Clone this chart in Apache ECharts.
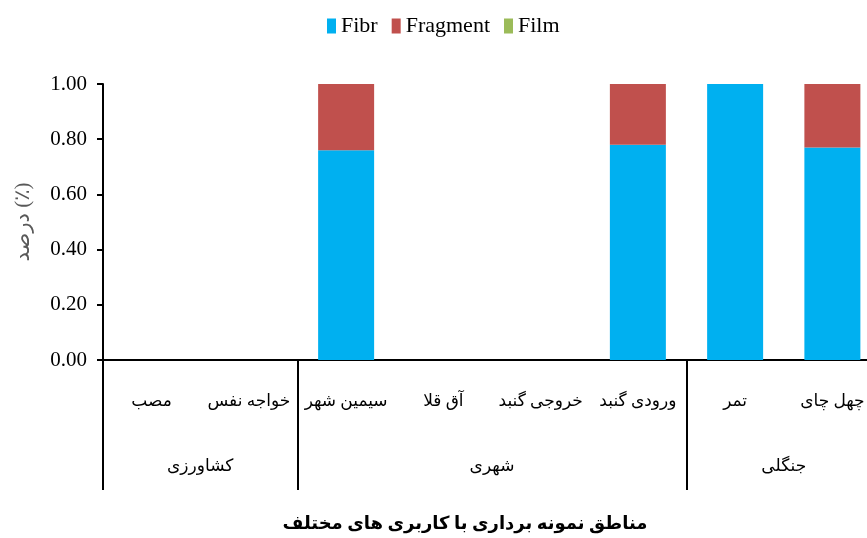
<!DOCTYPE html>
<html>
<head>
<meta charset="utf-8">
<script src="https://cdn.jsdelivr.net/npm/echarts@6/dist/echarts.min.js"></script>
<style>
html, body { margin: 0; padding: 0; background: #fff; }
#main { width: 867px; height: 538px; }
</style>
</head>
<body>
<div id="main"></div>
<script>
// sampling sites, left to right as in the figure
var sites = ['مصب', 'خواجه نفس', 'سیمین شهر', 'آق قلا', 'خروجی گنبد', 'ورودی گنبد', 'تمر', 'چهل چای'];
var fibr = [0, 0, 0.76, 0, 0, 0.78, 1.00, 0.77];
var fragment = [0, 0, 0.24, 0, 0, 0.22, 0, 0.23];
var film = [0, 0, 0, 0, 0, 0, 0, 0];

// land use groups: name, first site index, site count
var groupNames = ['کشاورزی', 'شهری', 'جنگلی'];
var groupStart = [0, 2, 6];
var groupSize = [2, 4, 2];

var yTicks = [0, 0.2, 0.4, 0.6, 0.8, 1.0];

var SERIF = 'Liberation Serif, DejaVu Serif, serif';
var FA = 'Liberation Serif, DejaVu Sans, sans-serif';

var groupMid = [];
for (var g = 0; g < groupNames.length; g++) {
    groupMid.push(groupStart[g] + groupSize[g] / 2);
}

var option = {
    animation: false,
    color: ['#00B0F0', '#C0504D', '#9BBB59'],
    legend: {
        top: 10,
        left: 322,
        icon: 'rect',
        itemWidth: 9,
        itemHeight: 15,
        itemGap: 14,
        textStyle: { fontFamily: SERIF, fontSize: 22, color: '#000' },
        data: ['Fibr', 'Fragment', 'Film']
    },
    grid: {
        left: 103,
        right: -14,
        top: 84,
        bottom: 178,
        outerBoundsMode: 'none'
    },
    xAxis: [
        {
            type: 'category',
            data: sites,
            position: 'bottom',
            axisLine: { lineStyle: { color: '#000', width: 2 } },
            axisTick: {
                show: true,
                length: 130,
                interval: function (index) {
                    return groupStart.indexOf(index) >= 0;
                },
                lineStyle: { color: '#000', width: 2 }
            },
            axisLabel: {
                interval: 0,
                margin: 33,
                fontFamily: FA,
                fontSize: 17,
                color: '#000'
            },
            name: 'مناطق نمونه برداری با کاربری های مختلف',
            nameLocation: 'middle',
            nameGap: 155,
            nameTextStyle: {
                fontFamily: FA,
                fontSize: 18,
                fontWeight: 'bold',
                color: '#000',
                padding: [0, 54, 0, 0]
            }
        },
        {
            type: 'value',
            min: 0,
            max: sites.length,
            position: 'bottom',
            axisLine: { show: false },
            axisTick: { show: false },
            splitLine: { show: false },
            axisLabel: {
                customValues: groupMid,
                margin: 98,
                fontFamily: FA,
                fontSize: 17,
                color: '#000',
                formatter: function (v) {
                    var i = groupMid.indexOf(v);
                    return i >= 0 ? groupNames[i] : '';
                }
            }
        }
    ],
    yAxis: {
        type: 'value',
        min: yTicks[0],
        max: yTicks[yTicks.length - 1],
        interval: 0.2,
        axisLine: { show: true, lineStyle: { color: '#000', width: 2 } },
        axisTick: { show: true, length: 6, lineStyle: { color: '#000', width: 2 } },
        splitLine: { show: false },
        axisLabel: {
            margin: 16,
            fontFamily: SERIF,
            fontSize: 21,
            color: '#000',
            formatter: function (v) { return v.toFixed(2); }
        },
        name: 'درصد (٪)',
        nameLocation: 'middle',
        nameRotate: 90,
        nameGap: 69,
        nameTextStyle: { fontFamily: FA, fontSize: 21, color: '#595959' }
    },
    series: [
        { name: 'Fibr', type: 'bar', stack: 'all', barWidth: 56, data: fibr },
        { name: 'Fragment', type: 'bar', stack: 'all', barWidth: 56, data: fragment },
        { name: 'Film', type: 'bar', stack: 'all', barWidth: 56, data: film }
    ]
};

var myChart = echarts.init(document.getElementById('main'));
myChart.setOption(option);
</script>
</body>
</html>
